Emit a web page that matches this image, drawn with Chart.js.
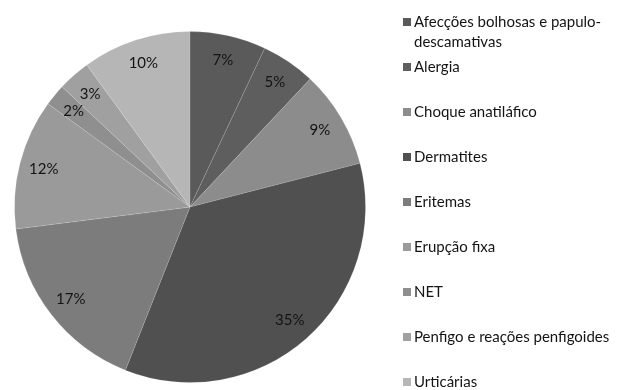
<!DOCTYPE html>
<html lang="pt">
<head>
    <meta charset="UTF-8">
    <title>Reações cutâneas</title>
    <style>
        body {
            margin: 0;
            background: #ffffff;
        }
        .wrap {
            position: relative;
            width: 618px;
            height: 390px;
        }
    </style>
</head>
<body>
    <div class="wrap">
        <canvas id="pieChart" width="618" height="390"></canvas>
    </div>

    <script src="https://cdn.jsdelivr.net/npm/chart.js"></script>
    <script>
        // categorias e percentagens
        const categories = [
            'Afecções bolhosas e papulo-descamativas',
            'Alergia',
            'Choque anatiláfico',
            'Dermatites',
            'Eritemas',
            'Erupção fixa',
            'NET',
            'Penfigo e reações penfigoides',
            'Urticárias'
        ];
        const percents = [7, 5, 9, 35, 17, 12, 2, 3, 10];
        // linhas da legenda (a primeira quebra em duas)
        const legendLines = [
            ['Afecções bolhosas e papulo-', 'descamativas'],
            ['Alergia'],
            ['Choque anatiláfico'],
            ['Dermatites'],
            ['Eritemas'],
            ['Erupção fixa'],
            ['NET'],
            ['Penfigo e reações penfigoides'],
            ['Urticárias']
        ];
        const sliceColors = ['#5a5a5a', '#5e5e5e', '#8c8c8c', '#505050', '#7c7c7c', '#9a9a9a', '#8f8f8f', '#a0a0a0', '#b6b6b6'];

        const FONT = '15px Lato, "Open Sans", sans-serif';

        // rótulos de percentagem dentro das fatias
        const pctLabels = {
            id: 'pctLabels',
            afterDatasetsDraw(chart) {
                const c = chart.ctx;
                const meta = chart.getDatasetMeta(0);
                c.save();
                c.font = FONT;
                c.fillStyle = '#141414';
                c.textAlign = 'center';
                c.textBaseline = 'middle';
                meta.data.forEach((arc, i) => {
                    const mid = (arc.startAngle + arc.endAngle) / 2;
                    const r = arc.outerRadius * 0.86;
                    c.fillText(percents[i] + '%', arc.x + Math.cos(mid) * r, arc.y + Math.sin(mid) * r);
                });
                c.restore();
            }
        };

        // legenda à direita, um item a cada 45px
        const sideLegend = {
            id: 'sideLegend',
            afterDraw(chart) {
                const c = chart.ctx;
                c.save();
                c.font = FONT;
                c.textBaseline = 'middle';
                legendLines.forEach((lines, i) => {
                    const y = 22 + i * 45;
                    c.fillStyle = sliceColors[i];
                    c.fillRect(403, y - 4, 8, 8);
                    c.fillStyle = '#141414';
                    lines.forEach((t, k) => c.fillText(t, 414, y + k * 20));
                });
                c.restore();
            }
        };

        new Chart(document.getElementById('pieChart'), {
            type: 'pie',
            data: {
                labels: categories,
                datasets: [{
                    data: percents,
                    backgroundColor: sliceColors,
                    borderColor: 'rgba(255,255,255,0.12)',
                    borderWidth: 1
                }]
            },
            options: {
                responsive: false,
                animation: false,
                layout: { padding: { left: 14, right: 252, top: 31, bottom: 7 } },
                plugins: {
                    legend: { display: false },
                    tooltip: { enabled: false }
                }
            },
            plugins: [pctLabels, sideLegend]
        });
    </script>
</body>
</html>
